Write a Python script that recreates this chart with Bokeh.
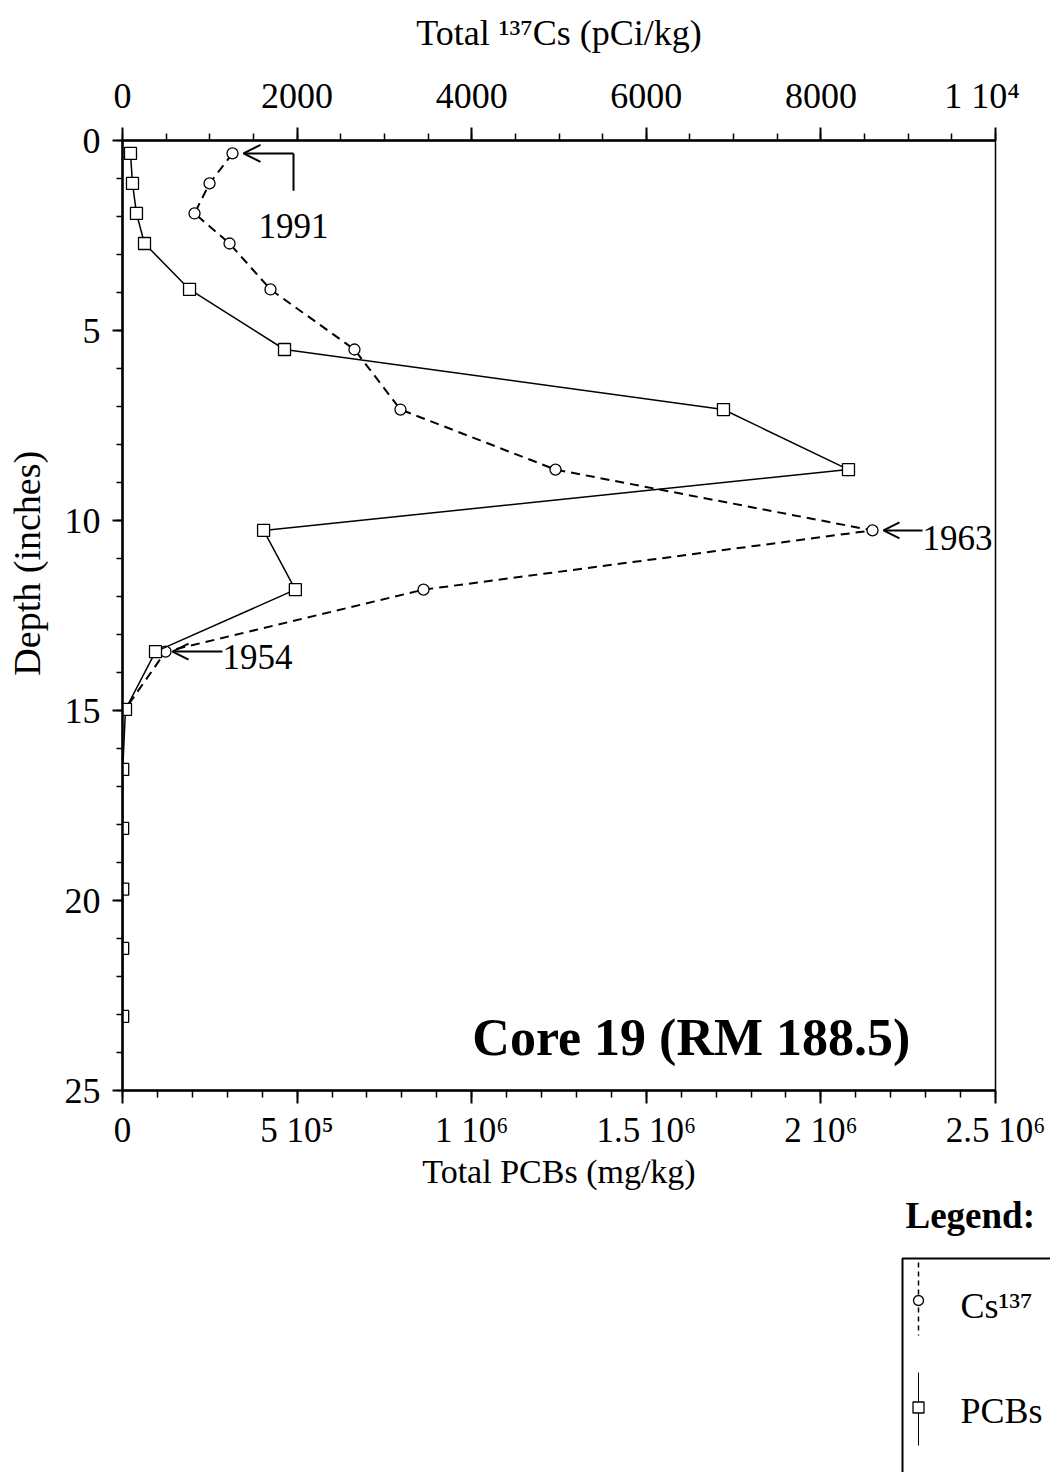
from bokeh.plotting import figure
from bokeh.layouts import column
from bokeh.models import (Range1d, LinearAxis, FixedTicker, Arrow, OpenHead, Label)
from bokeh.core.properties import value
from bokeh.embed import file_html
from bokeh.resources import INLINE

# ---------------- data ----------------
pcb_depth_in = [0.34, 1.13, 1.92, 2.71, 3.92, 5.5, 7.08, 8.66, 10.26, 11.82,
                13.45, 14.97, 16.55, 18.1, 19.7, 21.26, 23.05]
pcb_mgkg = [22900, 28600, 40000, 63000, 192000, 464000, 1721000, 2079000,
            404000, 495000, 94500, 8600, 600, 400, 600, 500, 500]

cs_depth_in = [0.34, 1.13, 1.92, 2.71, 3.92, 5.5, 7.08, 8.66, 10.26, 11.82,
               13.45, 14.97]
cs_pcikg = [1260, 997, 825, 1226, 1695, 2657, 3184, 4960, 8591, 3448, 493, 30]

pcb_ticks = [0, 500000, 1000000, 1500000, 2000000, 2500000]
pcb_tick_labels = ["0", "5 10\u2075", "1 10\u2076", "1.5 10\u2076", "2 10\u2076", "2.5 10\u2076"]
cs_ticks = [0, 2000, 4000, 6000, 8000, 10000]
cs_tick_labels = ["0", "2000", "4000", "6000", "8000", "1 10\u2074\u00a0\u00a0\u00a0"]
depth_ticks = [0, 5, 10, 15, 20, 25]

year_labels = ["1991", "1963", "1954"]
year_point_index = [0, 8, 10]

legend_labels = ["Cs\u00b9\u00b3\u2077", "PCBs"]

FONT = "Liberation Serif"
MAIN_H = 1193
TOTAL_H = 1472

# ---------------- main chart ----------------
p = figure(width=1050, height=MAIN_H,
           x_range=Range1d(0, 2.5e6), y_range=Range1d(25, 0),
           output_backend="svg", toolbar_location=None,
           min_border_left=122, min_border_right=55,
           min_border_top=140, min_border_bottom=MAIN_H - 1090,
           background_fill_color="white", border_fill_color="white",
           outline_line_color="black", outline_line_width=1.5)
p.frame_align = False
p.extra_x_ranges = {"cs": Range1d(0, 10000)}
p.xgrid.visible = False
p.ygrid.visible = False

top_axis = LinearAxis(x_range_name="cs")
p.add_layout(top_axis, "above")


def style_axis(ax, tick_out, minor_out, standoff, size="36px"):
    ax.axis_line_width = 2.5
    ax.axis_line_color = "black"
    ax.major_tick_line_width = 2
    ax.minor_tick_line_width = 1.5
    ax.major_tick_line_color = "black"
    ax.minor_tick_line_color = "black"
    ax.major_tick_out = tick_out
    ax.major_tick_in = 0
    ax.minor_tick_out = minor_out
    ax.minor_tick_in = 0
    ax.major_label_text_font = FONT
    ax.major_label_text_font_size = size
    ax.major_label_text_color = "black"
    ax.major_label_standoff = standoff
    ax.axis_label_text_font = FONT
    ax.axis_label_text_font_size = size
    ax.axis_label_text_font_style = "normal"
    ax.axis_label_text_color = "black"


# bottom axis: PCBs
xb = p.below[0]
xb.ticker = FixedTicker(ticks=pcb_ticks, minor_ticks=[i * 100000 for i in range(26)])
xb.major_label_overrides = {t: l for t, l in zip(pcb_ticks, pcb_tick_labels)}
xb.axis_label = "Total PCBs (mg/kg)"
style_axis(xb, 13, 7, 7, size="35px")
xb.axis_label_text_font_size = "34px"
xb.axis_label_standoff = 0

# top axis: Cs-137
top_axis.ticker = FixedTicker(ticks=cs_ticks, minor_ticks=[i * 500 for i in range(21)])
top_axis.major_label_overrides = {t: l for t, l in zip(cs_ticks, cs_tick_labels)}
top_axis.axis_label = "Total \u00b9\u00b3\u2077Cs (pCi/kg)"
style_axis(top_axis, 13, 7, 12)
top_axis.axis_label_standoff = 20

# left axis: depth (label shifted upward with leading no-break spaces, as in the reference)
yl = p.left[0]
yl.ticker = FixedTicker(ticks=depth_ticks, minor_ticks=list(range(26)))
style_axis(yl, 10, 6, 12)
yl.axis_label = "\u00a0" * 11 + "Depth (inches)"
yl.axis_label_text_font_size = "38px"
yl.axis_label_standoff = 14

# ---------------- series ----------------
cs_line = p.line(cs_pcikg, cs_depth_in, x_range_name="cs", line_color="black",
                 line_width=2, line_dash="9 6")
cs_pts = p.scatter(cs_pcikg, cs_depth_in, x_range_name="cs", marker="circle",
                   size=11, fill_color="white", line_color="black", line_width=1.3)
pcb_line = p.line(pcb_mgkg, pcb_depth_in, line_color="black", line_width=1.5)
pcb_pts = p.scatter(pcb_mgkg, pcb_depth_in, marker="square", size=12,
                    fill_color="white", line_color="black", line_width=1.3)

# ---------------- annotations ----------------
i0 = year_point_index[0]
p.add_layout(Arrow(x_start=1959, y_start=cs_depth_in[i0], x_end=cs_pcikg[i0] + 126,
                   y_end=cs_depth_in[i0], x_range_name="cs",
                   end=OpenHead(size=17, line_width=2, line_color="black"),
                   line_width=2, line_color="black"))
p.add_layout(Arrow(x_start=1959, y_start=cs_depth_in[i0], x_end=1959, y_end=1.32,
                   x_range_name="cs", end=None, line_width=2, line_color="black"))
p.add_layout(Label(x=1558, y=2.24, x_range_name="cs", text=year_labels[0],
                   text_font=FONT, text_font_size="35px", text_align="left",
                   text_baseline="middle", text_color="black"))

i1 = year_point_index[1]
p.add_layout(Arrow(x_start=9164, y_start=cs_depth_in[i1], x_end=cs_pcikg[i1] + 126,
                   y_end=cs_depth_in[i1], x_range_name="cs",
                   end=OpenHead(size=16, line_width=2, line_color="black"),
                   line_width=2, line_color="black"))
p.add_layout(Label(x=9164, y=10.45, x_range_name="cs", text=year_labels[1],
                   text_font=FONT, text_font_size="35px", text_align="left",
                   text_baseline="middle", text_color="black"))

i2 = year_point_index[2]
p.add_layout(Arrow(x_start=1145, y_start=cs_depth_in[i2], x_end=cs_pcikg[i2] + 80,
                   y_end=cs_depth_in[i2], x_range_name="cs",
                   end=OpenHead(size=16, line_width=2, line_color="black"),
                   line_width=2, line_color="black"))
p.add_layout(Label(x=1145, y=13.6, x_range_name="cs", text=year_labels[2],
                   text_font=FONT, text_font_size="35px", text_align="left",
                   text_baseline="middle", text_color="black"))

p.add_layout(Label(x=1629000, y=23.6, text="Core 19 (RM 188.5)", text_font=FONT,
                   text_font_size="52px", text_font_style="bold",
                   text_align="center", text_baseline="middle", text_color="black"))

# ---------------- legend panel (pixel coordinates, y measured from panel top) ----------------
LEG_H = TOTAL_H - MAIN_H
lg = figure(width=1050, height=LEG_H, x_range=Range1d(0, 1050), y_range=Range1d(LEG_H, 0),
            output_backend="svg", toolbar_location=None, min_border=0,
            min_border_left=0, min_border_right=0, min_border_top=0, min_border_bottom=0,
            x_axis_location=None, y_axis_location=None,
            outline_line_color=None, background_fill_color="white",
            border_fill_color="white")
lg.frame_align = False
lg.xgrid.visible = False
lg.ygrid.visible = False

off = 1258 - MAIN_H  # top edge of the legend box
lg.text([905], [22], text=["Legend:"], text_font=value(FONT), text_font_size="37px",
        text_font_style="bold", text_baseline="middle", text_align="left",
        text_color="black")
lg.line([902, 902, 1060], [LEG_H + 5, off, off], line_color="black", line_width=2)
lg.line([918, 918], [off + 4, off + 77], line_color="black", line_width=1.5, line_dash="5 4")
lg.scatter([918], [off + 42], marker="circle", size=10, fill_color="white",
           line_color="black", line_width=1.3)
lg.line([918, 918], [off + 114, off + 187], line_color="black", line_width=1)
lg.scatter([918], [off + 149], marker="square", size=11, fill_color="white",
           line_color="black", line_width=1.3)
lg.text([960, 960], [off + 47, off + 152], text=legend_labels, text_font=value(FONT),
        text_font_size="36px", text_baseline="middle", text_align="left",
        text_color="black")

layout = column(p, lg, spacing=0)
open("out.html", "w").write(file_html(layout, INLINE))
